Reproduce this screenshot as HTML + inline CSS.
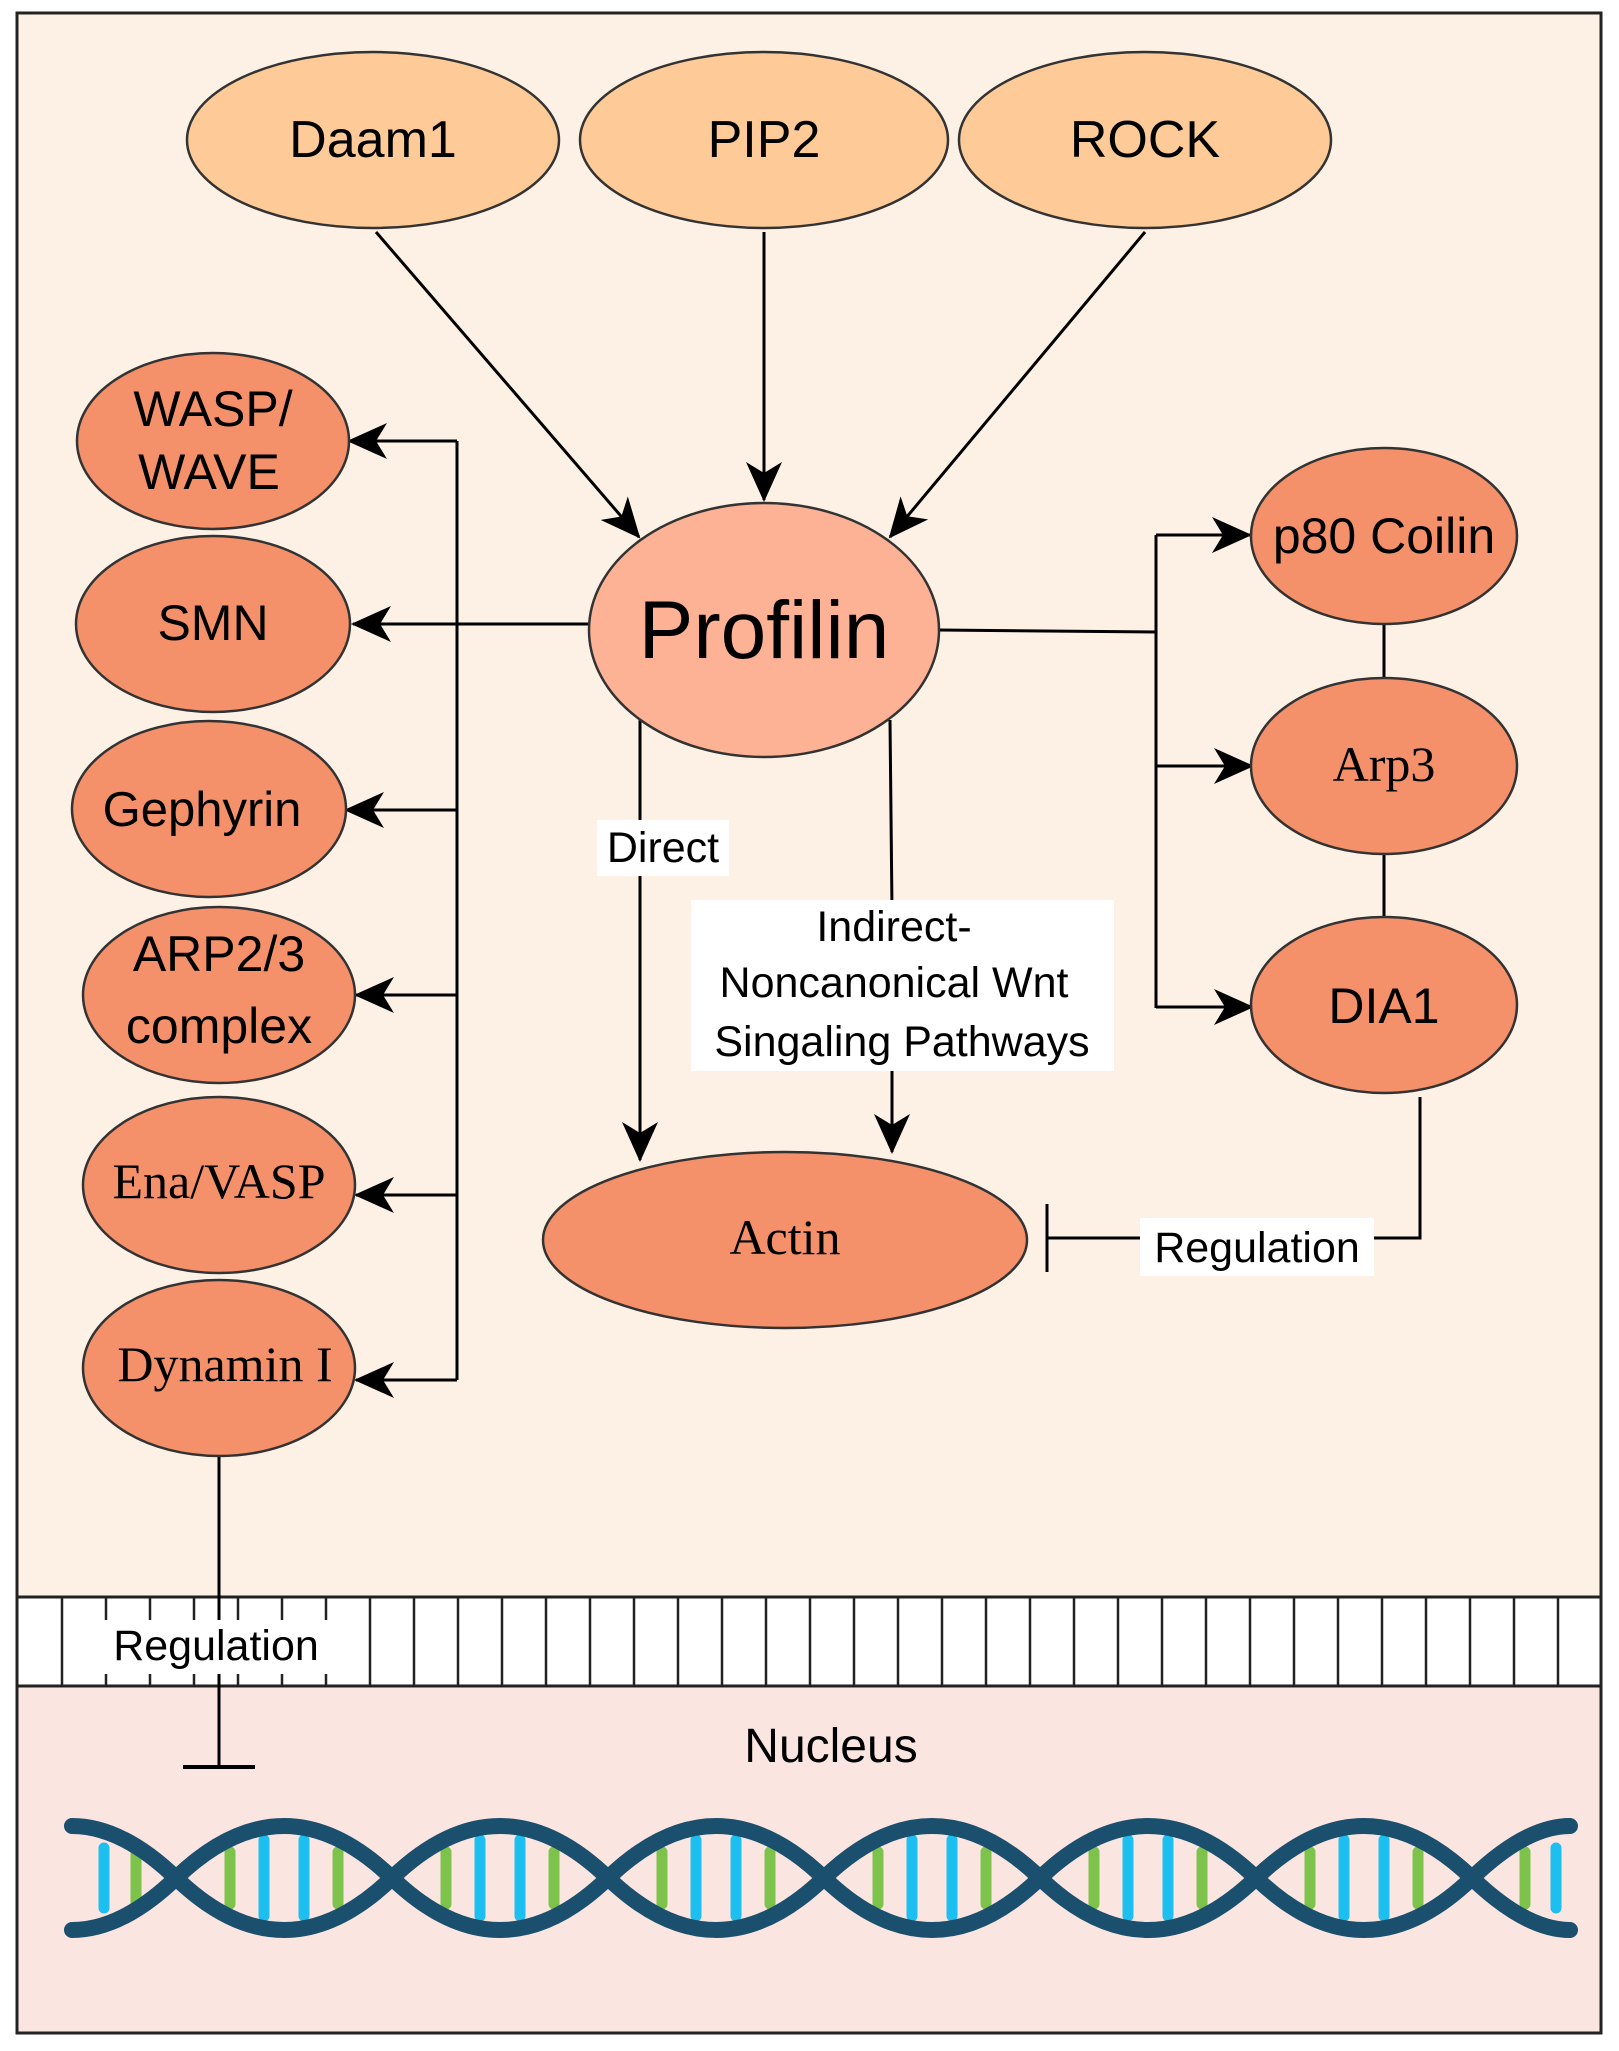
<!DOCTYPE html>
<html><head><meta charset="utf-8"><style>
html,body{margin:0;padding:0;background:#fff}
svg{display:block}
text{font-family:"Liberation Sans",sans-serif;fill:#000}
.s{font-family:"Liberation Serif",serif}
</style></head><body>
<svg width="1619" height="2051" viewBox="0 0 1619 2051" xmlns="http://www.w3.org/2000/svg">
<defs>
<marker id="b" markerWidth="40" markerHeight="36" refX="38" refY="18" orient="auto" markerUnits="userSpaceOnUse">
<path d="M0,0 L40,18 L0,36 L11,18 Z" fill="#000"/></marker>
</defs>
<rect x="0" y="0" width="1619" height="2051" fill="#fff"/>
<rect x="18" y="14" width="1583" height="1583" fill="#FDF1E5"/>
<rect x="18" y="1597" width="1583" height="89" fill="#fff"/>
<rect x="18" y="1686" width="1583" height="346" fill="#FBE5E1"/>
<g stroke="#222" stroke-width="3">
<line x1="18" y1="1597" x2="1601" y2="1597"/>
<line x1="18" y1="1686" x2="1601" y2="1686"/>
</g>
<g stroke="#222" stroke-width="2.5">
<line x1="62" y1="1597" x2="62" y2="1686"/><line x1="106" y1="1597" x2="106" y2="1686"/><line x1="150" y1="1597" x2="150" y2="1686"/><line x1="194" y1="1597" x2="194" y2="1686"/><line x1="238" y1="1597" x2="238" y2="1686"/><line x1="282" y1="1597" x2="282" y2="1686"/><line x1="326" y1="1597" x2="326" y2="1686"/><line x1="370" y1="1597" x2="370" y2="1686"/><line x1="414" y1="1597" x2="414" y2="1686"/><line x1="458" y1="1597" x2="458" y2="1686"/><line x1="502" y1="1597" x2="502" y2="1686"/><line x1="546" y1="1597" x2="546" y2="1686"/><line x1="590" y1="1597" x2="590" y2="1686"/><line x1="634" y1="1597" x2="634" y2="1686"/><line x1="678" y1="1597" x2="678" y2="1686"/><line x1="722" y1="1597" x2="722" y2="1686"/><line x1="766" y1="1597" x2="766" y2="1686"/><line x1="810" y1="1597" x2="810" y2="1686"/><line x1="854" y1="1597" x2="854" y2="1686"/><line x1="898" y1="1597" x2="898" y2="1686"/><line x1="942" y1="1597" x2="942" y2="1686"/><line x1="986" y1="1597" x2="986" y2="1686"/><line x1="1030" y1="1597" x2="1030" y2="1686"/><line x1="1074" y1="1597" x2="1074" y2="1686"/><line x1="1118" y1="1597" x2="1118" y2="1686"/><line x1="1162" y1="1597" x2="1162" y2="1686"/><line x1="1206" y1="1597" x2="1206" y2="1686"/><line x1="1250" y1="1597" x2="1250" y2="1686"/><line x1="1294" y1="1597" x2="1294" y2="1686"/><line x1="1338" y1="1597" x2="1338" y2="1686"/><line x1="1382" y1="1597" x2="1382" y2="1686"/><line x1="1426" y1="1597" x2="1426" y2="1686"/><line x1="1470" y1="1597" x2="1470" y2="1686"/><line x1="1514" y1="1597" x2="1514" y2="1686"/><line x1="1558" y1="1597" x2="1558" y2="1686"/>
</g>
<rect x="17" y="13" width="1584" height="2020" fill="none" stroke="#222" stroke-width="3"/>

<!-- DNA -->
<g fill="none" stroke-linecap="round">
<g stroke-width="11">
<line x1="104" y1="1848" x2="104" y2="1908" stroke="#1CBFEF"/><line x1="136" y1="1852" x2="136" y2="1904" stroke="#7DC24B"/>
</g>
<g id="seg" stroke-width="11">
<line x1="230" y1="1852" x2="230" y2="1904" stroke="#7DC24B"/><line x1="264" y1="1840" x2="264" y2="1916" stroke="#1CBFEF"/><line x1="304" y1="1840" x2="304" y2="1916" stroke="#1CBFEF"/><line x1="338" y1="1852" x2="338" y2="1904" stroke="#7DC24B"/>
</g>
<use href="#seg" x="216"/><use href="#seg" x="432"/><use href="#seg" x="648"/><use href="#seg" x="864"/><use href="#seg" x="1080"/>
<g stroke-width="11">
<line x1="1525" y1="1852" x2="1525" y2="1904" stroke="#7DC24B"/><line x1="1556" y1="1848" x2="1556" y2="1908" stroke="#1CBFEF"/>
</g>
</g>
<g fill="none" stroke="#1B4F6E" stroke-width="16" stroke-linecap="round">
<path d="M72,1826 Q122,1826 176,1878 T284,1930 T392,1878 T500,1826 T608,1878 T716,1930 T824,1878 T932,1826 T1040,1878 T1148,1930 T1256,1878 T1364,1826 T1472,1878 T1570,1930"/>
<path d="M72,1930 Q122,1930 176,1878 T284,1826 T392,1878 T500,1930 T608,1878 T716,1826 T824,1878 T932,1930 T1040,1878 T1148,1826 T1256,1878 T1364,1930 T1472,1878 T1570,1826"/>
</g>

<!-- connectors -->
<g stroke="#000" stroke-width="3" fill="none">
<line x1="376" y1="232" x2="639" y2="537" marker-end="url(#b)"/>
<line x1="764" y1="232" x2="764" y2="500" marker-end="url(#b)"/>
<line x1="1145" y1="232" x2="890" y2="537" marker-end="url(#b)"/>
<line x1="589" y1="624" x2="353" y2="624" marker-end="url(#b)"/>
<line x1="457" y1="441" x2="457" y2="1380"/>
<line x1="457" y1="441" x2="349" y2="441" marker-end="url(#b)"/>
<line x1="457" y1="810" x2="346" y2="810" marker-end="url(#b)"/>
<line x1="457" y1="995" x2="356" y2="995" marker-end="url(#b)"/>
<line x1="457" y1="1195" x2="356" y2="1195" marker-end="url(#b)"/>
<line x1="457" y1="1380" x2="356" y2="1380" marker-end="url(#b)"/>
<line x1="939" y1="630" x2="1156" y2="632"/>
<polyline points="1156,535 1156,1008"/>
<line x1="1156" y1="535" x2="1250" y2="535" marker-end="url(#b)"/>
<line x1="1156" y1="766" x2="1252" y2="766" marker-end="url(#b)"/>
<line x1="1156" y1="1007" x2="1252" y2="1007" marker-end="url(#b)"/>
<line x1="1384" y1="623" x2="1384" y2="680"/>
<line x1="1384" y1="853" x2="1384" y2="918"/>
<line x1="640" y1="720" x2="640" y2="1160" marker-end="url(#b)"/>
<line x1="890" y1="720" x2="892" y2="910"/>
<line x1="892" y1="1070" x2="892" y2="1152" marker-end="url(#b)"/>
<polyline points="1420,1097 1420,1238 1047,1238"/>
<line x1="1047" y1="1204" x2="1047" y2="1272"/>
<line x1="219" y1="1456" x2="219" y2="1767"/>
<line x1="183" y1="1767" x2="255" y2="1767" stroke-width="4"/>
</g>

<!-- nodes -->
<g stroke="#333" stroke-width="2.5">
<ellipse cx="373" cy="140" rx="186" ry="88" fill="#FECB98"/>
<ellipse cx="764" cy="140" rx="184" ry="88" fill="#FECB98"/>
<ellipse cx="1145" cy="140" rx="186" ry="88" fill="#FECB98"/>
<ellipse cx="764" cy="630" rx="175" ry="127" fill="#FDB295"/>
<ellipse cx="213" cy="441" rx="136" ry="88" fill="#F4906A"/>
<ellipse cx="213" cy="624" rx="137" ry="88" fill="#F4906A"/>
<ellipse cx="209" cy="809" rx="137" ry="88" fill="#F4906A"/>
<ellipse cx="219" cy="995" rx="136" ry="88" fill="#F4906A"/>
<ellipse cx="219" cy="1185" rx="136" ry="88" fill="#F4906A"/>
<ellipse cx="219" cy="1368" rx="136" ry="88" fill="#F4906A"/>
<ellipse cx="1384" cy="536" rx="133" ry="88" fill="#F4906A"/>
<ellipse cx="1384" cy="766" rx="133" ry="88" fill="#F4906A"/>
<ellipse cx="1384" cy="1005" rx="133" ry="88" fill="#F4906A"/>
<ellipse cx="785" cy="1240" rx="242" ry="88" fill="#F4906A"/>
</g>

<!-- label backgrounds -->
<g fill="#fff">
<rect x="597" y="820" width="132" height="56"/>
<rect x="691" y="900" width="423" height="171"/>
<rect x="1140" y="1218" width="234" height="58"/>
<rect x="95" y="1620" width="240" height="54"/>
</g>

<g text-anchor="middle">
<text x="373" y="157" font-size="52">Daam1</text>
<text x="764" y="157" font-size="52">PIP2</text>
<text x="1145" y="157" font-size="52">ROCK</text>
<text x="764" y="658" font-size="82">Profilin</text>
<text x="213" y="426" font-size="50">WASP/</text>
<text x="209" y="489" font-size="50">WAVE</text>
<text x="213" y="640" font-size="50">SMN</text>
<text x="202" y="826" font-size="49">Gephyrin</text>
<text x="219" y="971" font-size="50">ARP2/3</text>
<text x="219" y="1043" font-size="50">complex</text>
<text class="s" x="219" y="1198" font-size="50">Ena/VASP</text>
<text class="s" x="225" y="1381" font-size="50">Dynamin I</text>
<text x="1384" y="553" font-size="50">p80 Coilin</text>
<text class="s" x="1384" y="781" font-size="50">Arp3</text>
<text x="1384" y="1023" font-size="50">DIA1</text>
<text class="s" x="785" y="1254" font-size="50">Actin</text>
<text x="663" y="862" font-size="43">Direct</text>
<text x="894" y="941" font-size="43">Indirect-</text>
<text x="894" y="997" font-size="43">Noncanonical Wnt</text>
<text x="902" y="1056" font-size="43">Singaling Pathways</text>
<text x="1257" y="1262" font-size="43">Regulation</text>
<text x="216" y="1660" font-size="43">Regulation</text>
<text x="831" y="1762" font-size="48">Nucleus</text>
</g>
</svg>
</body></html>
